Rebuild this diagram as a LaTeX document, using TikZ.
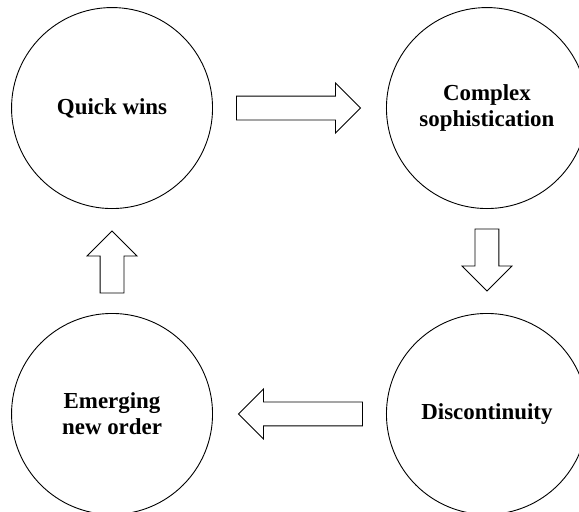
\documentclass[tikz,border=0pt]{standalone}
\usepackage{fontspec}
\setmainfont{Liberation Serif}
\usetikzlibrary{shapes.arrows,calc}
\begin{document}
\begin{tikzpicture}[line width=0.9bp]
\tikzset{
  phase/.style={draw, shape=circle, minimum size=201bp, inner sep=0pt, align=center, font=\fontsize{23}{26}\selectfont\bfseries},
  flow/.style={draw, shape=single arrow, inner xsep=0pt, inner ysep=11.5bp, minimum width=49bp, single arrow head extend=13bp, single arrow tip angle=90}
}
\useasboundingbox (-299.5bp,261bp) rectangle (279.5bp,-251bp);
\matrix [column sep=173bp, row sep=104bp] {
  \node (quick) [phase] {Quick wins}; & \node (complex) [phase] {Complex\\sophistication}; \\
  \node (emerging) [phase] {Emerging\\new order}; & \node (discont) [phase] {Discontinuity}; \\
};
\node (toright) [flow, minimum height=124bp, xshift=-7bp] at ($(quick)!0.5!(complex)$) {};
\node (todown) [flow, minimum height=62bp, rotate=-90, xshift=-7bp] at ($(complex)!0.5!(discont)$) {};
\node (toleft) [flow, minimum height=124bp, rotate=180, xshift=-7bp] at ($(discont)!0.5!(emerging)$) {};
\node (toup) [flow, minimum height=62bp, rotate=90, xshift=-7bp] at ($(emerging)!0.5!(quick)$) {};
\end{tikzpicture}
\end{document}
